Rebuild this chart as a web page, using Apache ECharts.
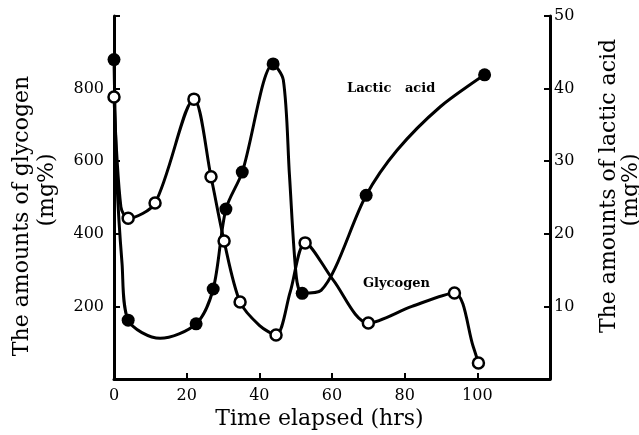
<!DOCTYPE html>
<html>
<head>
<meta charset="utf-8">
<style>
  html, body { margin: 0; padding: 0; background: #fff; }
  #chart { width: 639px; height: 435px; }
</style>
<script src="https://cdn.jsdelivr.net/npm/echarts@6/dist/echarts.min.js"></script>
</head>
<body>
<div id="chart"></div>
<script>
var glycogenPoints = [[0,777],[3.9,443],[11.3,485],[22,771],[26.7,557],[30.3,380],[34.7,212],[44.6,121],[52.6,375],[70,154],[93.7,237],[100.3,44]];
var lacticPoints = [[0,44.0],[3.9,8.1],[22.6,7.6],[27.3,12.4],[30.8,23.4],[35.3,28.5],[43.8,43.4],[51.8,11.8],[69.4,25.3],[102,41.9]];

// hand-drawn curves (pass through the points above)
var glycogenCurve = [[0,777],[1.9,474],[3.9,443],[11.3,485],[22,771],[26.7,557],[30.3,380],[34.7,212],[40,148],[44.6,121],[48.5,240],[52.6,375],[60.3,273],[70,154],[82,200],[93.7,237],[98.9,88],[100.3,44]];
var lacticCurve = [[0,44.0],[0.8,27.4],[2.2,16],[3.9,8.1],[12.7,5.6],[22.6,7.6],[27.3,12.4],[30.8,23.4],[35.3,28.5],[43.8,43.4],[46.6,41.2],[48.3,28],[50.2,14],[51.8,11.8],[57,12.2],[69.4,25.3],[77.9,31.5],[89.8,37.5],[102,41.9]];

var xTicks = [0, 20, 40, 60, 80, 100];
var serif = '"DejaVu Serif", "Liberation Serif", serif';

var chart = echarts.init(document.getElementById('chart'), null, { renderer: 'canvas' });

var axisLine = { show: true, lineStyle: { color: '#000', width: 3 } };
var axisTick = { show: true, inside: true, length: 6, lineStyle: { color: '#000', width: 2 } };

chart.setOption({
  animation: false,
  backgroundColor: '#fff',
  grid: { left: 114, right: 89, top: 16, bottom: 56 },
  xAxis: {
    type: 'value', min: 0, max: 120, interval: 20,
    axisLine: axisLine, axisTick: axisTick, splitLine: { show: false },
    axisLabel: {
      margin: 9, color: '#000', fontFamily: serif, fontSize: 16,
      formatter: function (v) { return xTicks.indexOf(v) >= 0 ? String(v) : ''; }
    }
  },
  yAxis: [{
    type: 'value', min: 0, max: 1000, interval: 200, position: 'left',
    axisLine: axisLine, axisTick: axisTick, splitLine: { show: false },
    axisLabel: {
      margin: 10, color: '#000', fontFamily: serif, fontSize: 16,
      formatter: function (v) { return (v === 0 || v === 1000) ? '' : String(v); }
    }
  }, {
    type: 'value', min: 0, max: 50, interval: 10, position: 'right',
    axisLine: axisLine, axisTick: axisTick, splitLine: { show: false },
    axisLabel: {
      margin: 4, color: '#000', fontFamily: serif, fontSize: 16,
      formatter: function (v) { return v === 0 ? '' : String(v); }
    }
  }],
  graphic: [
    { type: 'text', left: 'center', top: 408, style: { text: 'Time elapsed (hrs)', font: '22px ' + serif, fill: '#000' } },
    { type: 'text', x: 22, y: 216, rotation: Math.PI / 2, style: { text: 'The amounts of glycogen', font: '22px ' + serif, fill: '#000', align: 'center', verticalAlign: 'middle' } },
    { type: 'text', x: 47, y: 190, rotation: Math.PI / 2, style: { text: '(mg%)', font: '22px ' + serif, fill: '#000', align: 'center', verticalAlign: 'middle' } },
    { type: 'text', x: 609, y: 186, rotation: Math.PI / 2, style: { text: 'The amounts of lactic acid', font: '22px ' + serif, fill: '#000', align: 'center', verticalAlign: 'middle' } },
    { type: 'text', x: 631, y: 190, rotation: Math.PI / 2, style: { text: '(mg%)', font: '22px ' + serif, fill: '#000', align: 'center', verticalAlign: 'middle' } },
    { type: 'text', x: 347, y: 82, style: { text: 'Lactic   acid', font: 'bold 13px ' + serif, fill: '#000' } },
    { type: 'text', x: 363, y: 277, style: { text: 'Glycogen', font: 'bold 13px ' + serif, fill: '#000' } }
  ],
  series: [
    {
      name: 'Glycogen curve', type: 'line', yAxisIndex: 0, data: glycogenCurve,
      smooth: 0.3, symbol: 'none',
      lineStyle: { color: '#000', width: 3 }, z: 2
    },
    {
      name: 'Lactic acid curve', type: 'line', yAxisIndex: 1, data: lacticCurve,
      smooth: 0.3, symbol: 'none',
      lineStyle: { color: '#000', width: 3 }, z: 2
    },
    {
      name: 'Glycogen', type: 'scatter', yAxisIndex: 0, data: glycogenPoints,
      symbol: 'circle', symbolSize: 11,
      itemStyle: { color: '#fff', borderColor: '#000', borderWidth: 2.5, opacity: 1 }, z: 5
    },
    {
      name: 'Lactic acid', type: 'scatter', yAxisIndex: 1, data: lacticPoints,
      symbol: 'circle', symbolSize: 13,
      itemStyle: { color: '#000', opacity: 1 }, z: 5
    }
  ]
});
</script>
</body>
</html>
